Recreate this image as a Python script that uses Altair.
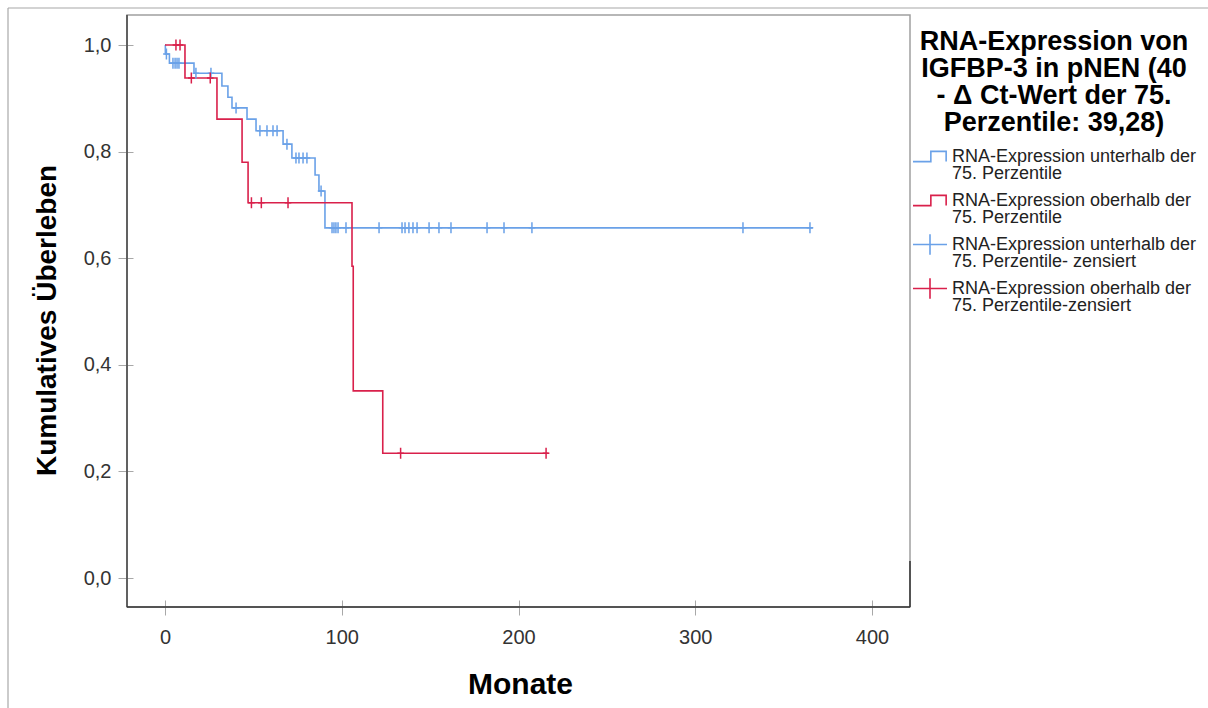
import altair as alt
import pandas as pd

# ---------------- data ----------------
entries = [
    "RNA-Expression unterhalb der|75. Perzentile",
    "RNA-Expression oberhalb der|75. Perzentile",
    "RNA-Expression unterhalb der|75. Perzentile- zensiert",
    "RNA-Expression oberhalb der|75. Perzentile-zensiert",
]
colors = ["#6aa1e8", "#d9204b", "#6aa1e8", "#d9204b"]

# Kaplan-Meier step points (time in months, cumulative survival after step)
blue_t = [0, 0.2, 2.5, 16.4, 32.2, 35.6, 37.9, 46.4, 51.5, 66.8, 71.8, 84.9, 87.1, 90.5, 366.5]
blue_s = [1.0, 0.983, 0.966, 0.947, 0.923, 0.902, 0.882, 0.861, 0.839, 0.814, 0.788, 0.756, 0.726, 0.657, 0.657]

red_t = [0, 11.3, 29.4, 43.6, 47.0, 105.8, 106.5, 123.2, 217.0]
red_s = [1.0, 0.938, 0.861, 0.780, 0.704, 0.585, 0.351, 0.234, 0.234]

# censored observations
blue_ct = [0.8, 4.5, 5.7, 6.8, 7.9, 17.5, 26.0, 40.2, 53.7, 57.7, 61.1, 63.4, 69.0,
           74.1, 75.8, 78.1, 80.3, 88.3, 94.5, 95.6, 96.7, 97.9, 102.4, 121.1, 134.1,
           135.8, 138.0, 140.3, 142.6, 149.4, 155.0, 161.8, 182.2, 191.8, 207.6, 327.0, 364.9]
blue_cs = [0.983, 0.966, 0.966, 0.966, 0.966, 0.947, 0.947, 0.882, 0.839, 0.839, 0.839, 0.839, 0.814,
           0.788, 0.788, 0.788, 0.788, 0.726, 0.657, 0.657, 0.657, 0.657, 0.657, 0.657, 0.657,
           0.657, 0.657, 0.657, 0.657, 0.657, 0.657, 0.657, 0.657, 0.657, 0.657, 0.657, 0.657]

red_ct = [6.2, 8.5, 14.9, 25.6, 48.9, 54.5, 69.6, 133.3, 215.6]
red_cs = [1.0, 1.0, 0.938, 0.938, 0.704, 0.704, 0.704, 0.234, 0.234]

x_ticks = [0, 100, 200, 300, 400]
y_ticks = [0.0, 0.2, 0.4, 0.6, 0.8, 1.0]

legend_title = ["RNA-Expression von", "IGFBP-3 in pNEN (40", "- \u0394 Ct-Wert der 75.", "Perzentile: 39,28)"]

# ---------------- tables ----------------
lines_df = pd.concat([
    pd.DataFrame({"t": blue_t, "s": blue_s, "entry": entries[0]}),
    pd.DataFrame({"t": red_t, "s": red_s, "entry": entries[1]}),
])
cens_df = pd.concat([
    pd.DataFrame({"t": blue_ct, "s": blue_cs, "entry": entries[2]}),
    pd.DataFrame({"t": red_ct, "s": red_cs, "entry": entries[3]}),
])
legend_df = pd.DataFrame({"entry": entries})
one = pd.DataFrame({"d": [0]})

FONT = "Liberation Sans"
W, H = 783, 592
PAD_L, PAD_T = 127, 15

step_path = "M-1,0.3L0.05,0.3L0.05,-0.3L0.95,-0.3L0.95,0.3"
cross_big = "M-1,0L1,0M0,-0.6L0,0.6"
cross_small = "M-0.6,0L0.6,0M0,-1L0,1"

x_scale = alt.Scale(domain=[-21.5, 421.5], nice=False, zero=False)
y_scale = alt.Scale(domain=[-0.0544, 1.0563], nice=False, zero=False)

x_axis = alt.Axis(values=x_ticks, offset=-7, tickSize=15, domain=False, grid=False,
                  labelFontSize=20, labelPadding=12, labelColor="#333333", tickColor="#a8a8a8",
                  title="Monate", titleFontSize=30, titleFontWeight="bold", titleColor="#000000",
                  titleX=393, titleY=84, titleAlign="center", titleBaseline="middle")
y_axis = alt.Axis(values=y_ticks, offset=-6, tickSize=15, domain=False, grid=False,
                  labelExpr="replace(format(datum.value, '.1f'), '.', ',')",
                  labelFontSize=20, labelPadding=7, labelColor="#333333", tickColor="#a8a8a8",
                  title="Kumulatives \u00dcberleben", titleFontSize=28, titleFontWeight="bold",
                  titleColor="#000000", titleAngle=270, titleX=-86, titleY=305,
                  titleAlign="center", titleBaseline="middle")

leg = alt.Legend(title=legend_title, orient="none", legendX=785, legendY=14,
                 titleFontSize=27, titleFont=FONT, titleFontWeight="bold", titleColor="#000000",
                 titleAnchor="middle", titleAlign="center", titleLineHeight=27, titleLimit=400,
                 titlePadding=1.5, labelFont=FONT, labelFontSize=18, labelColor="#222222",
                 labelLimit=400, labelExpr="split(datum.label, '|')", labelOffset=4,
                 symbolSize=1156, symbolStrokeWidth=1.6, symbolFillColor="transparent",
                 rowPadding=-7, padding=0)

color_enc = alt.Color("entry:N", scale=alt.Scale(domain=entries, range=colors), legend=leg)
x_enc = alt.X("t:Q", scale=x_scale, axis=x_axis)
y_enc = alt.Y("s:Q", scale=y_scale, axis=y_axis)

lines = alt.Chart(lines_df).mark_line(interpolate="step-after", strokeWidth=1.6).encode(
    x=x_enc, y=y_enc, color=color_enc, detail="entry:N")

cens = alt.Chart(cens_df).mark_point(shape=cross_small, size=121, filled=False,
                                     strokeWidth=1.5, opacity=1).encode(
    x=x_enc, y=y_enc, color=color_enc)

legend_layer = alt.Chart(legend_df).mark_point(filled=False, clip=True, opacity=1).encode(
    x=alt.value(-5000), y=alt.value(-5000), color=color_enc,
    shape=alt.Shape("entry:N", scale=alt.Scale(domain=entries,
                    range=[step_path, step_path, cross_big, cross_big]), legend=leg))

# frame decoration
left_line = alt.Chart(one).mark_rule(color="#444444", strokeWidth=1.5, clip=False).encode(
    x=alt.value(0), y=alt.value(0), y2=alt.value(H))
bottom_line = alt.Chart(one).mark_rule(color="#333333", strokeWidth=1.5, clip=False).encode(
    x=alt.value(0), x2=alt.value(W), y=alt.value(H))
right_dark = alt.Chart(one).mark_rule(color="#333333", strokeWidth=1.5, clip=False).encode(
    x=alt.value(W), y=alt.value(H - 46), y2=alt.value(H))
outer_top = alt.Chart(one).mark_rule(color="#a8a8a8", strokeWidth=1.2, clip=False).encode(
    x=alt.value(8 - PAD_L), x2=alt.value(1208 - PAD_L), y=alt.value(8 - PAD_T))
outer_left = alt.Chart(one).mark_rule(color="#a8a8a8", strokeWidth=1.2, clip=False).encode(
    x=alt.value(8 - PAD_L), y=alt.value(8 - PAD_T), y2=alt.value(708 - PAD_T))

chart = alt.layer(lines, cens, legend_layer, left_line, bottom_line, right_dark,
                  outer_top, outer_left).properties(
    width=W, height=H,
    autosize=alt.AutoSizeParams(type="none"),
    padding={"left": PAD_L, "top": PAD_T, "right": 1208 - PAD_L - W, "bottom": 708 - PAD_T - H},
    background="white",
).configure(style={"guide-label": {"lineHeight": 17}}
).configure_view(stroke="#a0a0a0", strokeWidth=1.5).configure_axis(
    labelFont=FONT, titleFont=FONT).configure_legend(labelFont=FONT, titleFont=FONT)

chart.save("out.html", embed_options={"renderer": "svg", "actions": False})
